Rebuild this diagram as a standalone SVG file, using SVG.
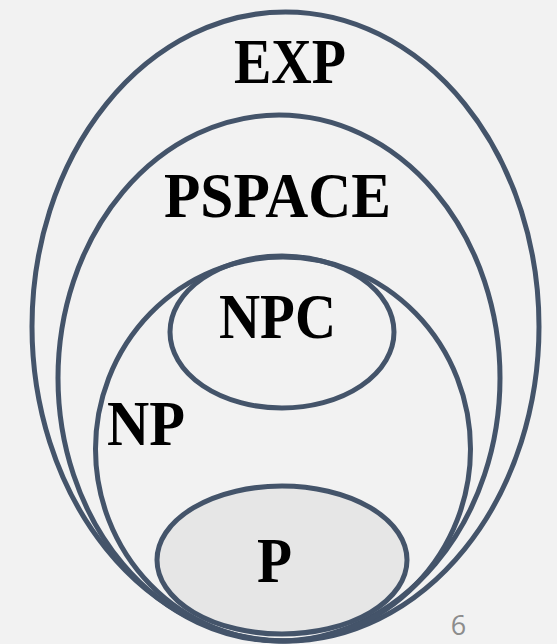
<svg xmlns="http://www.w3.org/2000/svg" width="557" height="644" viewBox="0 0 557 644">
<style>
.set{fill:none;stroke:#44546a;stroke-width:5}
.lbl{font-family:"Liberation Serif","Times New Roman",serif;font-weight:bold;font-size:64px;fill:#000;text-anchor:middle}
.pg{font-family:"Open Sans","Liberation Sans",sans-serif;font-size:27px;fill:#8c8c8c;text-anchor:middle}
</style>
<rect width="557" height="644" fill="#f2f2f2"/>
<g id="EXP">
<ellipse class="set" cx="285.5" cy="326.5" rx="253.5" ry="314.5"/>
<text class="lbl" x="290" y="83" textLength="112" lengthAdjust="spacingAndGlyphs">EXP</text>
</g>
<g id="PSPACE">
<ellipse class="set" cx="279" cy="378" rx="221" ry="263"/>
<text class="lbl" x="277.5" y="217" textLength="227" lengthAdjust="spacingAndGlyphs">PSPACE</text>
</g>
<g id="NP">
<ellipse class="set" cx="283" cy="449" rx="187.5" ry="192"/>
<text class="lbl" x="146" y="445" textLength="78" lengthAdjust="spacingAndGlyphs">NP</text>
</g>
<g id="NPC">
<ellipse class="set" cx="282" cy="332" rx="112" ry="76"/>
<text class="lbl" x="277.5" y="338" textLength="117" lengthAdjust="spacingAndGlyphs">NPC</text>
</g>
<g id="P">
<ellipse class="set" cx="282" cy="560" rx="125" ry="74" style="fill:#e6e6e6"/>
<text class="lbl" x="274.5" y="582" textLength="35" lengthAdjust="spacingAndGlyphs">P</text>
</g>
<g id="connectors"></g>
<text class="pg" x="458.5" y="635">6</text>
</svg>
